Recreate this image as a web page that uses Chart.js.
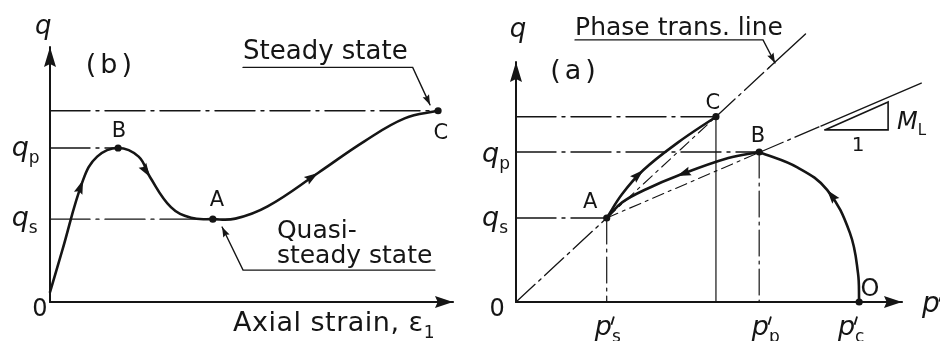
<!DOCTYPE html>
<html>
<head>
<meta charset="utf-8">
<title>Steady state and phase transformation</title>
<script src="https://cdn.jsdelivr.net/npm/chart.js@4.4.0/dist/chart.umd.min.js"></script>
<style>
  html, body { margin: 0; padding: 0; background: #fff; }
  .wrap { position: relative; width: 940px; height: 341px; }
  canvas { position: absolute; top: 0; }
  #strainChart { left: 0; }
  #pathChart { left: 470px; }
</style>
</head>
<body>
<div class="wrap">
  <canvas id="strainChart" width="470" height="341"></canvas>
  <canvas id="pathChart" width="470" height="341"></canvas>
</div>
<script>
const INK = '#151515';
const FONT = '"DejaVu Sans", sans-serif';
const DASH_DOT = [40, 6, 3, 6];
const DASH_DOT_SHORT = [26, 5, 3, 5];
const DASH_THIN = [12, 5, 3, 5];

// ==========================
// (b) q against axial strain
// ==========================
const qS_b = 3.25;
const qP_b = 6.04;
const qSteady_b = 7.5;
const strainAtB = 1.69;
const strainAtA = 4.04;
const strainAtC = 9.63;
const strainCurve = [
  [0, 0.39], [0.3, 2.0], [0.82, 4.78], [1.17, 5.7], [1.69, 6.04], [2.2, 5.7],
  [2.48, 4.9], [3.0, 3.72], [3.5, 3.3], [4.04, 3.25], [4.6, 3.27], [5.4, 3.75],
  [6.65, 5.06], [7.8, 6.3], [8.8, 7.2], [9.63, 7.5]
];
const strainArrowIdx = [2, 6, 12];
const steadyLeader = [[4.79, 9.2], [9.0, 9.2], [9.43, 7.73]];
const quasiLeader = [[9.55, 1.25], [4.79, 1.25], [4.27, 2.94]];

// ==========================
// (a) effective stress path, q against p'
// ==========================
const pS = 2.35, pPeakC = 5.18, pP = 6.3, pC = 8.89;
const qS_a = 3.5, qP_a = 6.25, qC_a = 7.72;
const pathOB = [[8.89, 0], [8.86, 1.2], [8.65, 2.88], [8.06, 4.67], [7.3, 5.6], [6.3, 6.25]];
const pathBA = [[6.3, 6.25], [5.5, 6.0], [4.17, 5.25], [3.4, 4.72], [2.75, 4.15], [2.35, 3.5]];
const pathAC = [[2.35, 3.5], [2.75, 4.5], [3.3, 5.5], [4.2, 6.65], [5.18, 7.72]];
const phaseLine = [[0, 0], [2.35, 3.5], [5.18, 7.72], [6.55, 9.76], [7.5, 11.17]];
const mlLine = [[2.35, 3.5], [6.3, 6.23], [7.9, 7.33], [10.5, 9.12]];
const mlTriangle = [[8.0, 7.17], [9.64, 7.17], [9.64, 8.33], [8.0, 7.17]];
const phaseLeader = [[1.53, 10.92], [6.4, 10.92], [6.71, 9.96]];

function pts(list) {
  return list.map(([x, y]) => ({ x, y }));
}

function line(list, width, dash, extra) {
  return Object.assign({
    data: pts(list),
    showLine: true,
    borderColor: INK,
    backgroundColor: INK,
    borderWidth: width,
    borderDash: dash || [],
    borderCapStyle: 'round',
    pointRadius: 0,
    tension: 0,
    clip: false
  }, extra || {});
}

function curve(list) {
  return line(list, 2.6, [], { tension: 0.4, borderJoinStyle: 'round' });
}

function dots(list) {
  return {
    data: pts(list),
    showLine: false,
    pointRadius: 3.6,
    pointBackgroundColor: INK,
    pointBorderWidth: 0,
    clip: false
  };
}

// arrowheads and lettering, placed in data units
const sketchMarks = {
  id: 'sketchMarks',
  afterDatasetsDraw(chart, args, opts) {
    const { ctx, scales: { x, y } } = chart;
    const X = v => x.getPixelForValue(v);
    const Y = v => y.getPixelForValue(v);
    ctx.save();
    ctx.fillStyle = INK;
    ctx.strokeStyle = INK;

    (opts.arrows || []).forEach(a => {
      const tx = X(a.tip[0]), ty = Y(a.tip[1]);
      const ang = Math.atan2(Y(a.to[1]) - Y(a.from[1]), X(a.to[0]) - X(a.from[0]));
      ctx.save();
      ctx.translate(tx, ty);
      ctx.rotate(ang);
      ctx.beginPath();
      ctx.moveTo(0, 0);
      ctx.lineTo(-a.len, -a.half);
      ctx.lineTo(-a.len * 0.85, 0);
      ctx.lineTo(-a.len, a.half);
      ctx.closePath();
      ctx.fill();
      ctx.restore();
    });

    (opts.labels || []).forEach(l => {
      const size = l.size || 24;
      const y0 = Y(l.at[1]);
      ctx.font = (l.italic ? 'italic ' : '') + size + 'px ' + FONT;
      ctx.letterSpacing = l.spacing || '0px';
      ctx.textBaseline = 'middle';
      ctx.textAlign = 'left';
      const w = ctx.measureText(l.text).width;
      let x0 = X(l.at[0]);
      if (l.align === 'center') x0 -= w / 2;
      ctx.fillText(l.text, x0, y0);
      ctx.letterSpacing = '0px';
      if (l.prime) {
        // short slanted stroke for the prime
        ctx.lineWidth = 1.8;
        ctx.beginPath();
        ctx.moveTo(x0 + w + 2, y0 - size * 0.42);
        ctx.lineTo(x0 + w - 0.5, y0 - size * 0.12);
        ctx.stroke();
      }
      if (l.sub) {
        ctx.font = Math.round(size * 0.62) + 'px ' + FONT;
        ctx.fillText(l.sub, x0 + w, y0 + size * 0.36);
      }
    });
    ctx.restore();
  }
};

function panelOptions(padding, marks) {
  return {
    responsive: false,
    animation: false,
    events: [],
    layout: { padding },
    scales: {
      x: { type: 'linear', min: 0, max: 10, display: false },
      y: { type: 'linear', min: 0, max: 10, display: false }
    },
    plugins: {
      legend: { display: false },
      tooltip: { enabled: false },
      sketchMarks: marks
    }
  };
}

// arrow at point i of a path, pointing along the path
function arrowOn(list, i, len, half) {
  const last = i === list.length - 1;
  return { tip: list[i], from: list[i - 1], to: last ? list[i] : list[i + 1], len, half };
}

// ==========================
// Panel (b)
// ==========================
const xAxisB = [[0, 0], [10, 0]];
const yAxisB = [[0, 0], [0, 10]];

new Chart(document.getElementById('strainChart').getContext('2d'), {
  type: 'scatter',
  data: {
    datasets: [
      line(xAxisB, 2.2),
      line(yAxisB, 2),
      line([[0, qSteady_b], [strainAtC, qSteady_b]], 1.4, DASH_DOT),
      line([[0, qP_b], [strainAtB, qP_b]], 1.4, DASH_DOT),
      line([[0, qS_b], [strainAtA, qS_b]], 1.4, DASH_DOT),
      curve(strainCurve),
      line(steadyLeader, 1.4),
      line(quasiLeader, 1.4),
      dots([[strainAtB, qP_b], [strainAtA, qS_b], [strainAtC, qSteady_b]])
    ]
  },
  options: panelOptions({ left: 50, right: 17, top: 47, bottom: 39 }, {
    arrows: [
      arrowOn(xAxisB, 1, 18, 6),
      arrowOn(yAxisB, 1, 20, 6),
      ...strainArrowIdx.map(i => arrowOn(strainCurve, i, 14, 4.5)),
      arrowOn(steadyLeader, 2, 10, 3.5),
      arrowOn(quasiLeader, 2, 10, 3.5)
    ],
    labels: [
      { text: 'q', at: [-0.17, 10.78], size: 26, italic: true, align: 'center' },
      { text: '(b)', at: [1.51, 9.25], size: 27, spacing: '4px', align: 'center' },
      { text: 'Steady state', at: [4.79, 9.8], size: 26 },
      { text: 'B', at: [1.71, 6.67], size: 21, align: 'center' },
      { text: 'A', at: [4.14, 3.96], size: 21, align: 'center' },
      { text: 'C', at: [9.7, 6.59], size: 21, align: 'center' },
      { text: 'q', sub: 'p', at: [-0.95, 6.0], size: 27, italic: true },
      { text: 'q', sub: 's', at: [-0.95, 3.25], size: 27, italic: true },
      { text: '0', at: [-0.25, -0.31], size: 24, align: 'center' },
      { text: 'Quasi-', at: [5.63, 2.78], size: 25 },
      { text: 'steady state', at: [5.63, 1.8], size: 25 },
      { text: 'Axial strain, \u03b5', sub: '1', at: [4.54, -0.86], size: 27, spacing: '0.5px' }
    ]
  }),
  plugins: [sketchMarks]
});

// ==========================
// Panel (a)
// ==========================
const xAxisA = [[0, 0], [10, 0]];
const yAxisA = [[0, 0], [0, 10]];

new Chart(document.getElementById('pathChart').getContext('2d'), {
  type: 'scatter',
  data: {
    datasets: [
      line(xAxisA, 2.2),
      line(yAxisA, 2),
      // guide lines to the axes
      line([[0, qC_a], [pPeakC, qC_a]], 1.4, DASH_DOT),
      line([[0, qP_a], [pP, qP_a]], 1.4, DASH_DOT),
      line([[0, qS_a], [pS, qS_a]], 1.4, DASH_DOT),
      line([[pS, qS_a], [pS, 0]], 1.2, DASH_DOT_SHORT),
      line([[pPeakC, qC_a], [pPeakC, 0]], 1.2),
      line([[pP, qP_a], [pP, 0]], 1.2, DASH_DOT_SHORT),
      // phase transformation line
      line(phaseLine.slice(0, 2), 1.3, DASH_DOT_SHORT),
      line(phaseLine.slice(1, 3), 1.1, DASH_THIN),
      line(phaseLine.slice(2, 4), 1.3, DASH_DOT_SHORT),
      line(phaseLine.slice(3, 5), 1.4),
      // M_L line and slope triangle
      line(mlLine.slice(0, 2), 1.1, DASH_THIN),
      line(mlLine.slice(1, 3), 1.3, DASH_DOT_SHORT),
      line(mlLine.slice(2, 4), 1.4),
      line(mlTriangle, 1.6),
      // stress path O -> B -> A -> C
      curve(pathOB),
      curve(pathBA),
      curve(pathAC),
      line(phaseLeader, 1.4),
      dots([[pS, qS_a], [pPeakC, qC_a], [pP, qP_a], [pC, 0]])
    ]
  },
  options: panelOptions({ left: 46, right: 38, top: 62, bottom: 39 }, {
    arrows: [
      arrowOn(xAxisA, 1, 18, 6),
      arrowOn(yAxisA, 1, 20, 6),
      arrowOn(pathOB, 3, 14, 4.5),
      arrowOn(pathBA, 2, 14, 4.5),
      arrowOn(pathAC, 2, 14, 4.5),
      arrowOn(phaseLeader, 2, 10, 3.5)
    ],
    labels: [
      { text: 'q', at: [0.05, 11.33], size: 26, italic: true, align: 'center' },
      { text: '(a)', at: [1.53, 9.58], size: 27, spacing: '4px', align: 'center' },
      { text: 'Phase trans. line', at: [1.53, 11.38], size: 25 },
      { text: 'C', at: [5.1, 8.25], size: 21, align: 'center' },
      { text: 'B', at: [6.27, 6.88], size: 21, align: 'center' },
      { text: 'A', at: [1.92, 4.13], size: 21, align: 'center' },
      { text: 'q', sub: 'p', at: [-0.88, 6.13], size: 27, italic: true },
      { text: 'q', sub: 's', at: [-0.88, 3.46], size: 27, italic: true },
      { text: '0', at: [-0.49, -0.33], size: 24, align: 'center' },
      { text: 'O', at: [9.17, 0.5], size: 24, align: 'center' },
      { text: 'p', prime: true, sub: 's', at: [2.04, -1.08], size: 27, italic: true },
      { text: 'p', prime: true, sub: 'p', at: [6.11, -1.08], size: 27, italic: true },
      { text: 'p', prime: true, sub: 'c', at: [8.34, -1.08], size: 27, italic: true },
      { text: 'p', prime: true, at: [10.52, -0.12], size: 28, italic: true },
      { text: 'M', sub: 'L', at: [9.87, 7.46], size: 24, italic: true },
      { text: '1', at: [8.86, 6.5], size: 20, align: 'center' }
    ]
  }),
  plugins: [sketchMarks]
});
</script>
</body>
</html>
